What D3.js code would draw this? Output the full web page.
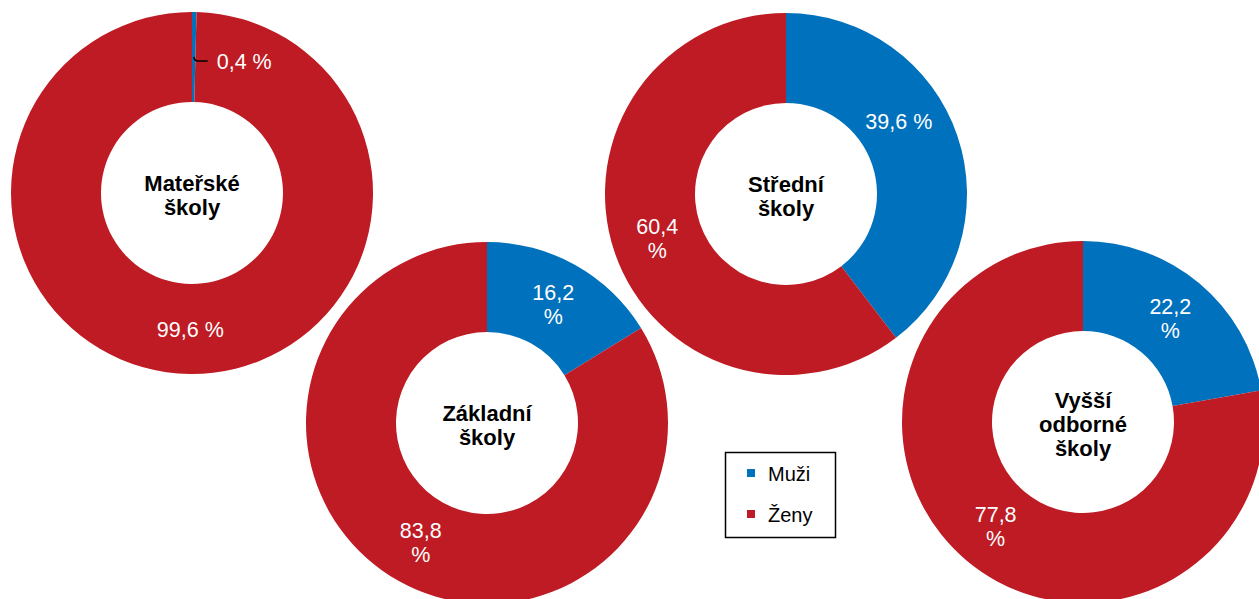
<!DOCTYPE html>
<head>
<meta charset="utf-8">
<style>
body { margin: 0; background: #fff; }
svg { display: block; font-family: "Liberation Sans", Arial, sans-serif; }
.title { font-weight: bold; font-size: 22px; fill: #000; }
.pct { font-size: 21.5px; fill: #fff; }
.legend text { font-size: 20px; fill: #000; }
</style>
</head>
<body>
<script src="https://d3js.org/d3.v7.min.js"></script>
<script>
// data
var schools = [["Mateřské", "školy"], ["Základní", "školy"], ["Střední", "školy"], ["Vyšší", "odborné", "školy"]];
var series = ["Muži", "Ženy"];
var muzi = [0.4, 16.2, 39.6, 22.2];
var zeny = [99.6, 83.8, 60.4, 77.8];

(function() {
	var
		W = 1259,
		H = 599,
		rOuter = 181,
		rInner = 91,
		colors = ["#0071bc", "#be1b24"],
		// chart centres
		centers = [[192, 193], [487, 423], [786, 194], [1083, 422]],
		// label wrapping as in the original (value, % on two lines)
		wrap = [[false, false], [true, true], [false, true], [true, true]],
		// manual nudge for labels that the original moved off the centroid
		nudge = [[[0, 0], [0, 0]], [[0, 0], [0, 0]], [[-16, -29], [0, 0]], [[0, 0], [0, 0]]];

	var cz = d3.formatLocale({decimal: ",", thousands: " ", grouping: [3], currency: ["", " Kč"]});
	var fmt = cz.format(".1f");

	var color = d3.scaleOrdinal().domain(series).range(colors);

	var pie = d3.pie().sort(null).value(function(d) { return d.v; });
	var arc = d3.arc().innerRadius(rInner).outerRadius(rOuter);

	var svg = d3.select("body").append("svg")
		.attr("width", W)
		.attr("height", H);

	schools.forEach(function(title, i) {
		var rows = [{s: series[0], v: muzi[i]}, {s: series[1], v: zeny[i]}];
		var arcs = pie(rows);

		var g = svg.append("g")
			.attr("transform", "translate(" + centers[i][0] + "," + centers[i][1] + ")");

		g.selectAll("path.slice")
			.data(arcs)
			.enter().append("path")
			.attr("class", "slice")
			.attr("d", arc)
			.attr("fill", function(d) { return color(d.data.s); });

		// centre title
		var lh = 24;
		var t = g.append("text").attr("class", "title").attr("text-anchor", "middle");
		title.forEach(function(line, k) {
			t.append("tspan")
				.attr("x", 0)
				.attr("y", -(title.length - 1) * lh / 2 + 10 + k * lh)
				.text(line);
		});

		// percentage labels
		arcs.forEach(function(d, j) {
			var c = arc.centroid(d);
			var txt = fmt(d.data.v);
			if (d.data.v < 2) {
				// tiny slice: leader line and label to the right
				g.append("path")
					.attr("d", "M" + c[0] + "," + c[1] + " q1,4 4,4 L" + (c[0] + 14) + "," + (c[1] + 4))
					.attr("fill", "none")
					.attr("stroke", "#000")
					.attr("stroke-width", 1.5);
				g.append("text")
					.attr("class", "pct")
					.attr("x", c[0] + 23)
					.attr("y", c[1] + 4 + 8)
					.text(txt + " %");
				return;
			}
			var x = c[0] + nudge[i][j][0], y = c[1] + nudge[i][j][1];
			var lt = g.append("text").attr("class", "pct").attr("text-anchor", "middle");
			if (wrap[i][j]) {
				lt.append("tspan").attr("x", x).attr("y", y - 4).text(txt);
				lt.append("tspan").attr("x", x).attr("y", y + 20).text("%");
			} else {
				lt.attr("x", x).attr("y", y + 8).text(txt + " %");
			}
		});
	});

	// legend
	var lg = svg.append("g").attr("class", "legend");
	lg.append("rect")
		.attr("x", 725.5).attr("y", 452.5)
		.attr("width", 110).attr("height", 85)
		.attr("fill", "#fff")
		.attr("stroke", "#000")
		.attr("stroke-width", 1.5);
	series.forEach(function(s, k) {
		lg.append("rect")
			.attr("x", 747).attr("y", 469 + k * 41)
			.attr("width", 8).attr("height", 8)
			.attr("fill", color(s));
		lg.append("text")
			.attr("x", 768).attr("y", 481 + k * 41)
			.text(s);
	});
})();
</script>
</body>
